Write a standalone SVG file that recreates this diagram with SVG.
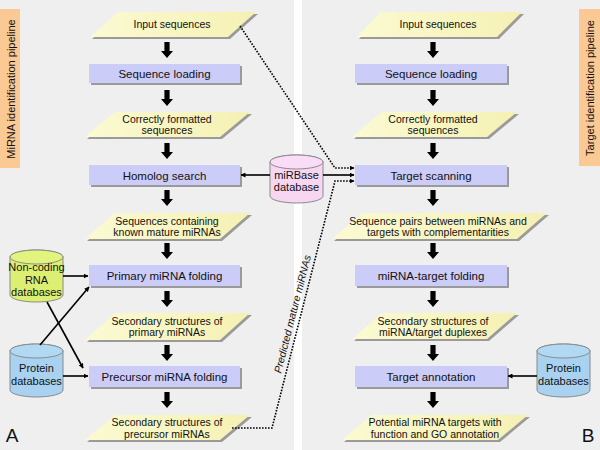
<svg xmlns="http://www.w3.org/2000/svg" xmlns:xlink="http://www.w3.org/1999/xlink" width="600" height="450" viewBox="0 0 600 450">
<defs>
<style>
text{font-family:"Liberation Sans",Arial,sans-serif;fill:#111;text-anchor:middle}
.t{font-size:11.5px}
.p{font-size:10.5px}
.rect{fill:#ccccf8}
.para{fill:#f9f7c4}
.sh{fill:#9a9a9a}
.cyl{stroke:#8a8a8a;stroke-width:1}
.thin{stroke:#000;stroke-width:1.6;fill:none;marker-end:url(#ah)}
.dot{stroke:#000;stroke-width:1.6;fill:none;stroke-dasharray:1.6 1.4}
.dota{stroke:#000;stroke-width:1.6;fill:none;stroke-dasharray:1.6 1.4;marker-end:url(#ah)}
</style>
<linearGradient id="pg" x1="0" y1="0" x2="1" y2="0">
<stop offset="0" stop-color="#fbfad2"/><stop offset="1" stop-color="#f5f1b4"/>
</linearGradient>
<marker id="ah" viewBox="0 0 10 10" refX="9" refY="5" markerWidth="5" markerHeight="5" orient="auto" markerUnits="userSpaceOnUse">
<path d="M0,0 L10,5 L0,10 Z" fill="#000"/>
</marker>
<path id="ba" d="M-2.6,0 H2.6 V9 H6 L0,16 L-6,9 H-2.6 Z" fill="#000"/>
</defs>

<rect x="0" y="0" width="600" height="450" fill="#ffffff"/>
<rect x="0" y="0" width="294" height="450" fill="#efefef"/>
<rect x="302" y="0" width="298" height="450" fill="#efefef"/>

<g id="label-left">
<rect x="0" y="9" width="20" height="159" fill="#fbc994"/>
<text transform="translate(14.5,89) rotate(-90)" style="font-size:11px">MiRNA identification pipeline</text>
</g>
<g id="label-right">
<rect x="579" y="9" width="21" height="157" fill="#fbc994"/>
<text transform="translate(594,88) rotate(-90)" style="font-size:11px">Target identification pipeline</text>
</g>

<!-- Left pipeline -->
<g id="L-input">
<polygon class="sh" points="120,14 258,14 230,39 92,39"/>
<polygon points="118,12 256,12 228,37 90,37" fill="url(#pg)"/>
<text class="p" x="172" y="28">Input sequences</text>
</g>
<g id="L-load">
<rect class="sh" x="91" y="66" width="151" height="19"/>
<rect class="rect" x="89" y="64" width="151" height="19"/>
<text class="t" x="164.5" y="78">Sequence loading</text>
</g>
<g id="L-formatted">
<polygon class="sh" points="117,114 252,114 222,139 87,139"/>
<polygon points="115,112 250,112 220,137 85,137" fill="url(#pg)"/>
<text class="p" x="167" y="123">Correctly formatted</text>
<text class="p" x="167" y="134">sequences</text>
</g>
<g id="L-homolog">
<rect class="sh" x="91" y="167" width="151" height="20"/>
<rect class="rect" x="89" y="165" width="151" height="20"/>
<text class="t" x="164.5" y="179.5">Homolog search</text>
</g>
<g id="L-known">
<polygon class="sh" points="117,215 252,215 222,241 87,241"/>
<polygon points="115,213 250,213 220,239 85,239" fill="url(#pg)"/>
<text class="p" x="167" y="224.5">Sequences containing</text>
<text class="p" x="167" y="235.5">known mature miRNAs</text>
</g>
<g id="L-primary">
<rect class="sh" x="91" y="267" width="151" height="21"/>
<rect class="rect" x="89" y="265" width="151" height="21"/>
<text class="t" x="164.5" y="280">Primary miRNA folding</text>
</g>
<g id="L-sec-primary">
<polygon class="sh" points="117,315 252,315 222,342 87,342"/>
<polygon points="115,313 250,313 220,340 85,340" fill="url(#pg)"/>
<text class="p" x="167" y="324.5">Secondary structures of</text>
<text class="p" x="167" y="336">primary miRNAs</text>
</g>
<g id="L-precursor">
<rect class="sh" x="91" y="368" width="151" height="21"/>
<rect class="rect" x="89" y="366" width="151" height="21"/>
<text class="t" x="164.5" y="381">Precursor miRNA folding</text>
</g>
<g id="L-sec-precursor">
<polygon class="sh" points="117,417 252,417 222,442 87,442"/>
<polygon points="115,415 250,415 220,440 85,440" fill="url(#pg)"/>
<text class="p" x="167" y="426">Secondary structures of</text>
<text class="p" x="167" y="437.5">precursor miRNAs</text>
</g>

<g id="db-noncoding">
<path class="cyl" d="M10,257 A26.5,7 0 0 1 63,257 V295 A26.5,7 0 0 1 10,295 Z" fill="#dcef72"/>
<ellipse class="cyl" cx="36.5" cy="257" rx="26.5" ry="7" fill="#e3f47e"/>
<text class="p" x="36.5" y="271" style="font-size:11px">Non-coding</text>
<text class="p" x="36.5" y="283.5" style="font-size:11px">RNA</text>
<text class="p" x="36.5" y="296" style="font-size:11px">databases</text>
</g>
<g id="db-protein-left">
<path class="cyl" d="M10,351 A26.5,7 0 0 1 63,351 V390 A26.5,7 0 0 1 10,390 Z" fill="#a8d2f0"/>
<ellipse class="cyl" cx="36.5" cy="351" rx="26.5" ry="7" fill="#b2d9f4"/>
<text x="36.5" y="372" style="font-size:11px">Protein</text>
<text x="36.5" y="384.5" style="font-size:11px">databases</text>
</g>
<g id="db-mirbase">
<path class="cyl" d="M270,162 A26.5,7 0 0 1 323,162 V196 A26.5,7 0 0 1 270,196 Z" fill="#f7d6f2"/>
<ellipse class="cyl" cx="296.5" cy="162" rx="26.5" ry="7" fill="#fadcf6"/>
<text x="296.5" y="178.5" style="font-size:11px">miRBase</text>
<text x="296.5" y="190.5" style="font-size:11px">database</text>
</g>

<!-- Right pipeline -->
<g id="R-input">
<polygon class="sh" points="382,14 524,14 499,39 359,39"/>
<polygon points="380,12 522,12 497,37 357,37" fill="url(#pg)"/>
<text class="p" x="438" y="28">Input sequences</text>
</g>
<g id="R-load">
<rect class="sh" x="357" y="66" width="152" height="19"/>
<rect class="rect" x="355" y="64" width="152" height="19"/>
<text class="t" x="431" y="78">Sequence loading</text>
</g>
<g id="R-formatted">
<polygon class="sh" points="384,114 519,114 489,139 354,139"/>
<polygon points="382,112 517,112 487,137 352,137" fill="url(#pg)"/>
<text class="p" x="433" y="123">Correctly formatted</text>
<text class="p" x="433" y="134">sequences</text>
</g>
<g id="R-scan">
<rect class="sh" x="357" y="167" width="152" height="20"/>
<rect class="rect" x="355" y="165" width="152" height="20"/>
<text class="t" x="431" y="179.5">Target scanning</text>
</g>
<g id="R-pairs">
<polygon class="sh" points="364,215 549,215 519,241 334,241"/>
<polygon points="362,213 547,213 517,239 332,239" fill="url(#pg)"/>
<text class="p" x="438" y="224.5">Sequence pairs between miRNAs and</text>
<text class="p" x="438" y="235.5">targets with complementarities</text>
</g>
<g id="R-fold">
<rect class="sh" x="357" y="267" width="152" height="21"/>
<rect class="rect" x="355" y="265" width="152" height="21"/>
<text class="t" x="431" y="280">miRNA-target folding</text>
</g>
<g id="R-sec">
<polygon class="sh" points="384,315 519,315 489,341 354,341"/>
<polygon points="382,313 517,313 487,339 352,339" fill="url(#pg)"/>
<text class="p" x="433" y="324.5">Secondary structures of</text>
<text class="p" x="433" y="335.5">miRNA/target duplexes</text>
</g>
<g id="R-annot">
<rect class="sh" x="357" y="368" width="152" height="21"/>
<rect class="rect" x="355" y="366" width="152" height="21"/>
<text class="t" x="431" y="381">Target annotation</text>
</g>
<g id="R-potential">
<polygon class="sh" points="374,417 530,417 500,442 344,442"/>
<polygon points="372,415 528,415 498,440 342,440" fill="url(#pg)"/>
<text class="p" x="435" y="426">Potential miRNA targets with</text>
<text class="p" x="435" y="437.5">function and GO annotation</text>
</g>
<g id="db-protein-right">
<path class="cyl" d="M537,351 A26.5,7 0 0 1 590,351 V390 A26.5,7 0 0 1 537,390 Z" fill="#a8d2f0"/>
<ellipse class="cyl" cx="563.5" cy="351" rx="26.5" ry="7" fill="#b2d9f4"/>
<text x="563.5" y="372" style="font-size:11px">Protein</text>
<text x="563.5" y="384.5" style="font-size:11px">databases</text>
</g>

<g id="connectors">
<use xlink:href="#ba" x="167" y="42"/>
<use xlink:href="#ba" x="167" y="90"/>
<use xlink:href="#ba" x="167" y="143"/>
<use xlink:href="#ba" x="167" y="190"/>
<use xlink:href="#ba" x="167" y="243"/>
<use xlink:href="#ba" x="167" y="291"/>
<use xlink:href="#ba" x="167" y="345"/>
<use xlink:href="#ba" x="167" y="392"/>
<use xlink:href="#ba" x="433" y="42"/>
<use xlink:href="#ba" x="433" y="90"/>
<use xlink:href="#ba" x="433" y="143"/>
<use xlink:href="#ba" x="433" y="190"/>
<use xlink:href="#ba" x="433" y="243"/>
<use xlink:href="#ba" x="433" y="291"/>
<use xlink:href="#ba" x="433" y="345"/>
<use xlink:href="#ba" x="433" y="392"/>
<line class="thin" x1="63" y1="276" x2="88" y2="276"/>
<line class="thin" x1="47" y1="302" x2="83" y2="368"/>
<line class="thin" x1="40" y1="345" x2="89" y2="287"/>
<line class="thin" x1="63" y1="376" x2="88" y2="376"/>
<line class="thin" x1="270" y1="175" x2="241" y2="175"/>
<line class="thin" x1="323" y1="175" x2="354" y2="175"/>
<line class="thin" x1="537" y1="376" x2="508" y2="376"/>
<polyline class="dota" points="240,26 335,168 354,168"/>
<polyline class="dota" points="232,428 272,428 335,181 354,181"/>
<text transform="translate(296,315) rotate(-75.7)" style="font-size:10.5px;font-style:italic">Predicted mature miRNAs</text>
</g>

<text x="12" y="442" style="font-size:19px;text-anchor:middle">A</text>
<text x="588" y="442" style="font-size:19px;text-anchor:middle">B</text>
</svg>
